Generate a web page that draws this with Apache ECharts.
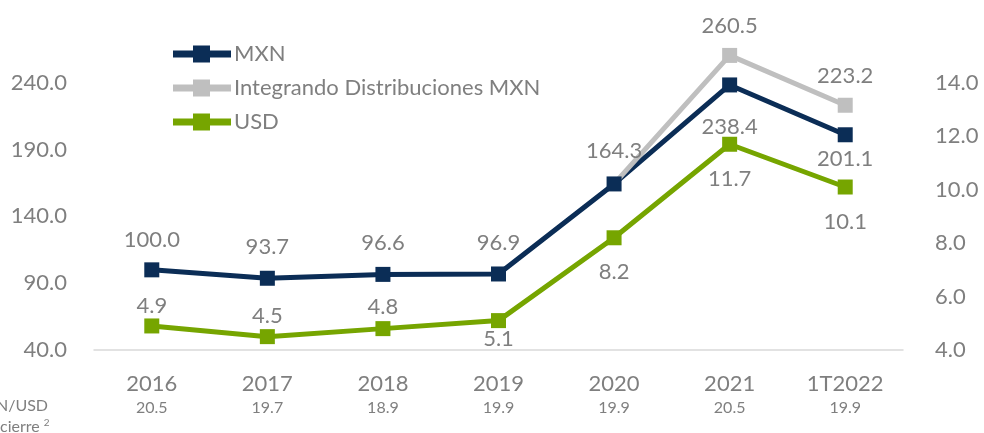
<!DOCTYPE html>
<html>
<head>
<meta charset="utf-8">
<script src="https://cdn.jsdelivr.net/npm/echarts@6/dist/echarts.min.js"></script>
<style>
  html, body { margin: 0; padding: 0; background: #fff; }
  #chart { width: 984px; height: 433px; }
</style>
</head>
<body>
<div id="chart"></div>
<script>
const years = ['2016', '2017', '2018', '2019', '2020', '2021', '1T2022']
const fxRates = ['20.5', '19.7', '18.9', '19.9', '19.9', '20.5', '19.9']
const mxn = [100.0, 93.7, 96.6, 96.9, 164.3, 238.4, 201.1]
const integrando = [null, null, null, null, 164.3, 260.5, 223.2]
const usd = [4.9, 4.5, 4.8, 5.1, 8.2, 11.7, 10.1]

// label placement per point (side and gap to the marker)
const mxnLabelSide = ['top', 'top', 'top', 'top', 'top', 'bottom', 'bottom']
const mxnLabelGap = [11, 13, 13, 13, 15, 23, 6]
const usdLabelSide = ['top', 'top', 'top', 'bottom', 'bottom', 'bottom', 'bottom']
const usdLabelGap = [2, 2, 3, 0, 16, 16, 16]

const navy = '#0b2d56'
const grey = '#bfbfbf'
const green = '#76a500'
const textGrey = '#7f7f7f'
const font = 'Lato, "Open Sans", sans-serif'
const legendIcon = 'path://M0,5H58V12H0Z M20,0H37V17H20Z'

const chart = echarts.init(document.getElementById('chart'))

const fmt = v => v.toFixed(1)
const baseLabel = { show: true, fontSize: 22, color: textGrey, fontFamily: font, formatter: p => fmt(p.value) }

chart.setOption({
  animation: false,
  textStyle: { fontFamily: font },
  grid: { left: 94, right: 81, top: 16, bottom: 83 },
  legend: {
    left: 168,
    top: 38,
    orient: 'vertical',
    itemWidth: 58,
    itemHeight: 17,
    itemGap: 12,
    textStyle: { fontSize: 22, color: textGrey, fontFamily: font, padding: [0, 0, 0, -2] },
    data: [
      { name: 'MXN', icon: legendIcon },
      { name: 'Integrando Distribuciones MXN', icon: legendIcon },
      { name: 'USD', icon: legendIcon }
    ]
  },
  xAxis: {
    type: 'category',
    data: years,
    axisLine: { lineStyle: { color: '#d9d9d9', width: 1.5 } },
    axisTick: { show: false },
    axisLabel: {
      margin: 21,
      formatter: (v, i) => '{y|' + v + '}\n{r|' + fxRates[i] + '}',
      rich: {
        y: { fontSize: 22, color: textGrey, fontFamily: font, lineHeight: 26 },
        r: { fontSize: 16, color: textGrey, fontFamily: font, lineHeight: 22 }
      }
    }
  },
  yAxis: [
    {
      type: 'value',
      min: 40,
      max: 290,
      interval: 50,
      splitLine: { show: false },
      axisLine: { show: false },
      axisLabel: {
        margin: 27,
        fontSize: 22,
        color: textGrey,
        fontFamily: font,
        formatter: v => (v > 240 ? '' : v.toFixed(1))
      }
    },
    {
      type: 'value',
      min: 4,
      max: 16.5,
      interval: 2,
      splitLine: { show: false },
      axisLine: { show: false },
      axisLabel: {
        margin: 32,
        fontSize: 22,
        color: textGrey,
        fontFamily: font,
        formatter: v => (v > 14 ? '' : v.toFixed(1))
      }
    }
  ],
  series: [
    {
      name: 'MXN',
      type: 'line',
      yAxisIndex: 0,
      data: mxn.map((v, i) => ({
        value: v,
        label: { position: mxnLabelSide[i], distance: mxnLabelGap[i] }
      })),
      symbol: 'rect',
      symbolSize: 15,
      color: navy,
      lineStyle: { width: 5, color: navy },
      label: baseLabel
    },
    {
      name: 'Integrando Distribuciones MXN',
      type: 'line',
      yAxisIndex: 0,
      data: integrando.map((v, i) =>
        i === 4 ? { value: v, symbol: 'none', label: { show: false } } : v
      ),
      symbol: 'rect',
      symbolSize: 15,
      color: grey,
      lineStyle: { width: 5, color: grey },
      label: Object.assign({}, baseLabel, { position: 'top', distance: 11 })
    },
    {
      name: 'USD',
      type: 'line',
      yAxisIndex: 1,
      data: usd.map((v, i) => ({
        value: v,
        label: { position: usdLabelSide[i], distance: usdLabelGap[i] }
      })),
      symbol: 'rect',
      symbolSize: 15,
      color: green,
      lineStyle: { width: 5, color: green },
      label: baseLabel
    }
  ],
  graphic: [
    {
      type: 'text',
      right: 936,
      top: 398,
      style: { text: 'MXN/USD', fontSize: 16, fill: textGrey, fontFamily: font, textAlign: 'right' }
    },
    {
      type: 'text',
      left: 0,
      top: 418,
      style: {
        text: '{a|cierre }{s|2}',
        rich: {
          a: { fontSize: 16, fill: textGrey, fontFamily: font },
          s: { fontSize: 10, fill: textGrey, fontFamily: font, verticalAlign: 'top', padding: [0, 0, 8, 0] }
        }
      }
    }
  ]
})

window.addEventListener('resize', () => chart.resize())
</script>
</body>
</html>
